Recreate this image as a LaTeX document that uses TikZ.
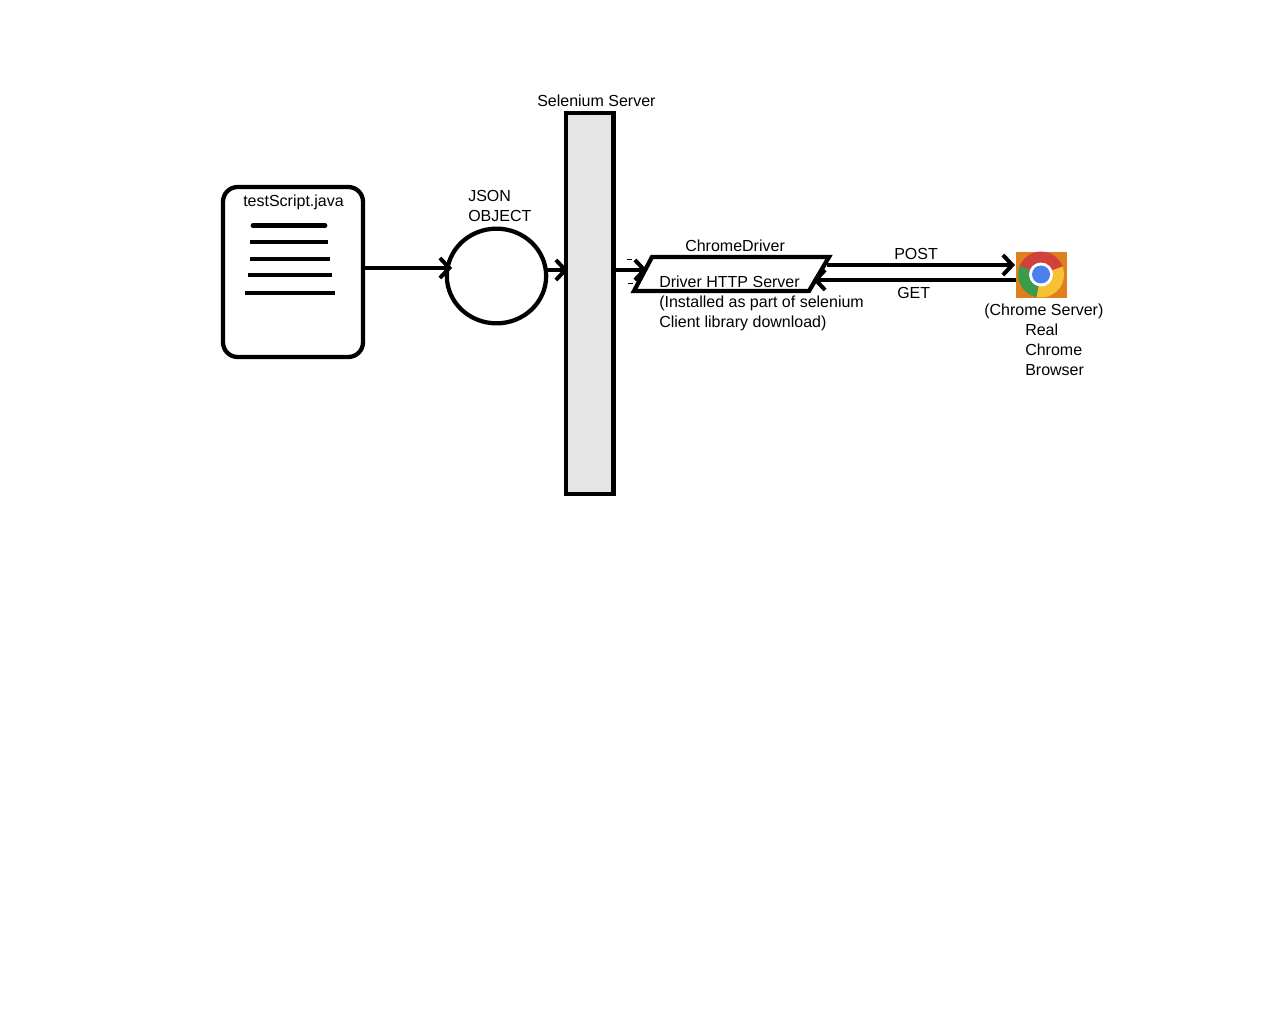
\documentclass[tikz,border=0pt]{standalone}
\usepackage{fontspec}
\setmainfont{Liberation Sans}
\usetikzlibrary{arrows.meta,shapes.geometric,calc}
\definecolor{srv}{HTML}{E5E5E5}
\definecolor{crOrange}{HTML}{E07F1E}
\definecolor{crRed}{HTML}{D0413A}
\definecolor{crGreen}{HTML}{3B9B4A}
\definecolor{crYellow}{HTML}{F6C234}
\definecolor{crBlue}{HTML}{4A80EC}
\tikzset{
  x=0.75pt,y=-0.75pt,
  heavy/.style={draw=black,line width=3.2pt},
  docline/.style={draw=black,line width=2.6pt},
  flow/.style={draw=black,line width=3pt,-{Straight Barb[length=7pt,width=15pt,line width=3pt]}},
  tick/.style={draw=black,line width=0.7pt},
  lbl/.style={anchor=base west,inner sep=0pt,font=\fontsize{12}{14}\selectfont,text=black},
}
\begin{document}
\begin{tikzpicture}
\useasboundingbox (0,0) rectangle (1280,1024);
\fill[white] (0,0) rectangle (1280,1024);

% main shapes
\draw[heavy,rounded corners=11pt] (223,187) rectangle (363,357);
\coordinate (docR) at (363,268);
\coordinate (circL) at (452,268);
\node[heavy,ellipse,minimum width=74.5pt,minimum height=71pt,inner sep=0pt] (circ) at (496.5,276) {};
\node[heavy,fill=srv,minimum width=35.5pt,minimum height=285.5pt,inner sep=0pt] (server) at (589.75,303.5) {};
\coordinate (d1) at (652,257);
\coordinate (d2) at (829,257);
\coordinate (d3) at (809,291);
\coordinate (d4) at (634,291);
\draw[heavy] (d1) -- (d2) -- (d3) -- (d4) -- cycle;

% document lines
\draw[docline,line width=3.6pt,line cap=round] (253,225.5) -- (325,225.5);
\draw[docline] (250,242) -- (328,242);
\draw[docline] (250,259) -- (330,259);
\draw[docline] (248,275) -- (332,275);
\draw[docline] (245,293) -- (335,293);

% chrome icon
\node[fill=crOrange,minimum width=38.5pt,minimum height=34.5pt,inner sep=0pt] (chrome) at (1041.5,275) {};
\begin{scope}
  \clip (1041,274.5) circle[radius=23];
  \fill[crRed] (1041,274.5) -- (1010,262) -- (1010,240) -- (1075,240) -- (1075,262) -- cycle;
  \fill[crGreen] (1041,274.5) -- (1010,262) -- (1010,305) -- (1035,305) -- cycle;
  \fill[crYellow] (1041,274.5) -- (1075,262) -- (1075,305) -- (1035,305) -- cycle;
\end{scope}
\fill[white] (1041,274.5) circle[radius=12];
\fill[crBlue] (1041,274.5) circle[radius=9];

% connectors
\draw[flow] (docR) -- (circL);
\coordinate (circR) at (547,270);
\coordinate (srvL) at (568,270);
\draw[flow] (circR) -- (srvL);
\coordinate (srvR) at (612,270);
\coordinate (drvL) at (647,270);
\draw[flow] (srvR) -- (drvL);
\coordinate (drvPost) at (827,265);
\coordinate (chrPost) at (1015,265);
\draw[flow] (drvPost) -- (chrPost);
\coordinate (chrGet) at (1016,280);
\coordinate (drvGet) at (813,280);
\draw[flow] (chrGet) -- (drvGet);

% small ticks
\draw[tick] (627,259) -- (632,259);
\draw[tick] (628,283) -- (633,283);

% labels
\node[lbl] (t1) at (537,106) {Selenium Server};
\node[lbl] (t2) at (243,206) {testScript.java};
\node[lbl] (t3) at (468,201) {JSON};
\node[lbl] (t4) at (468,221) {OBJECT};
\node[lbl] (t5) at (685,251) {ChromeDriver};
\node[lbl] (t6) at (659,287) {Driver HTTP Server};
\node[lbl] (t7) at (659,307) {(Installed as part of selenium};
\node[lbl] (t8) at (659,327) {Client library download)};
\node[lbl] (t9) at (894,259) {POST};
\node[lbl] (t10) at (897,298) {GET};
\node[lbl] (t11) at (984,315) {(Chrome Server)};
\node[lbl] (t12) at (1025,335) {Real};
\node[lbl] (t13) at (1025,355) {Chrome};
\node[lbl] (t14) at (1025,375) {Browser};
\end{tikzpicture}
\end{document}
